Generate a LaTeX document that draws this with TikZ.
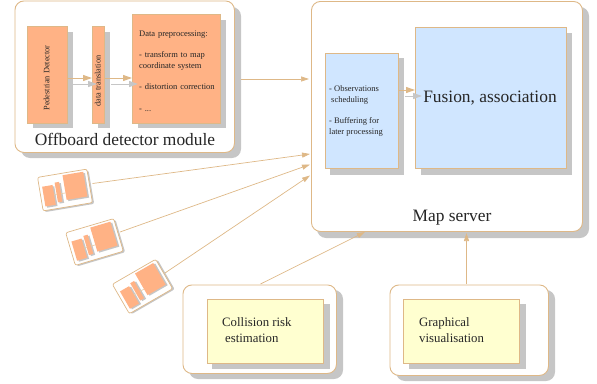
\documentclass[tikz,border=0pt]{standalone}
\usetikzlibrary{arrows.meta}
\definecolor{tan}{RGB}{222,184,135}
\definecolor{greyshade}{RGB}{198,198,198}
\definecolor{salmon}{RGB}{255,178,133}
\definecolor{skyb}{RGB}{208,230,255}
\definecolor{lemon}{RGB}{255,255,208}
\usepackage{fontspec}
\setmainfont{Liberation Serif}
\tikzset{
 x=1pt,y=-1pt,
 panel/.style={draw=tan,fill=white,line width=.9pt,rounded corners=9pt},
 panelshadow/.style={fill=greyshade,rounded corners=9pt},
 boxshadow/.style={fill=greyshade},
 orangebox/.style={draw=tan,fill=salmon,line width=.8pt},
 bluebox/.style={draw=tan,fill=skyb,line width=.9pt},
 yellowbox/.style={draw=tan,fill=lemon,line width=.8pt},
 link/.style={draw=tan,line width=.7pt,-{Triangle[length=8pt,width=5pt]}},
 thicklink/.style={draw=tan,line width=1pt,-{Triangle[length=9pt,width=6pt]}},
 shadelink/.style={draw=greyshade,line width=1pt,-{Triangle[length=9pt,width=6pt]}},
 mini/.style={draw=tan,fill=white,line width=.7pt,rounded corners=2pt},
 miniorange/.style={fill=salmon},
 minishade/.style={fill=greyshade},
 lab/.style={inner sep=0pt,align=left,text=black!85},
}
\newcommand{\pbox}[6]{% name, x1,y1,x2,y2, style
 \node[#6,minimum width=#4pt-#2pt,minimum height=#5pt-#3pt,inner sep=0pt,anchor=north west] (#1) at (#2,#3) {};}
\newcommand{\minimodule}[4]{% name, cx, cy, angle
 \begin{scope}[shift={(#2,#3)},rotate=#4,x=1pt,y=-1pt]
  \fill[greyshade,rounded corners=2pt] (-23.5,-15.5) rectangle (26.5,18.5);
  \draw[mini] (-25,-17) rectangle (25,17);
  \fill[minishade] (-20.5,-5.5) rectangle (-10,14.5);
  \fill[miniorange] (-22,-7) rectangle (-11.5,13);
  \fill[minishade] (-7.5,-7.5) rectangle (-3,12.5);
  \fill[miniorange] (-9,-9) rectangle (-4.5,11);
  \fill[minishade] (1.5,-13.5) rectangle (22.5,11.5);
  \fill[miniorange] (0,-15) rectangle (21,10);
  \draw[tan!70!white,line width=.7pt] (-11.5,3) -- (-9,3) (-4.5,3) -- (0,3);
 \end{scope}}
\begin{document}
\begin{tikzpicture}
\useasboundingbox (0,0) rectangle (597,383);
% detector panel
\fill[panelshadow] (21,7) rectangle (241,158);
\pbox{detector}{14.5}{0.5}{234}{152}{panel,rounded corners=9pt}
\fill[boxshadow] (33,32) rectangle (73,128);
\fill[boxshadow] (98,32) rectangle (110,128);
\fill[boxshadow] (138,20) rectangle (226,128);
\pbox{ped}{27}{26}{66.5}{122.5}{orangebox}
\pbox{trans}{92}{26}{103.5}{122.5}{orangebox}
\pbox{prep}{132}{14}{220}{122.5}{orangebox}
\node[lab,rotate=90,font=\fontsize{8.3}{9}\selectfont] at (46.5,78) {Pedestrian Detector};
\node[lab,rotate=90,font=\fontsize{8.3}{9}\selectfont] at (97.7,81) {data translation};
\node[lab,anchor=north west,font=\fontsize{8.5}{10.7}\selectfont,text width=80pt] at (139,30.5) {Data preprocessing:\\[10.7pt]- transform to map\\coordinate system\\[10.7pt]- distortion correction\\[10.7pt]- ...};
\coordinate (p1a) at (73,84); \coordinate (p1b) at (97,84);
\coordinate (p2a) at (111,84); \coordinate (p2b) at (138,84);
\draw[shadelink] (p1a) -- (p1b);
\draw[shadelink] (p2a) -- (p2b);
\draw[thicklink] (ped.east |- 0,78) -- (trans.west |- 0,78);
\draw[thicklink] (trans.east |- 0,78) -- (prep.west |- 0,78);
\node[lab,font=\fontsize{17.4}{19}\selectfont] at (125,139) {Offboard detector module};
% map server
\fill[panelshadow] (317,7) rectangle (589,238);
\pbox{server}{311}{1}{582}{231}{panel,rounded corners=9pt}
\fill[boxshadow] (330,58) rectangle (404,175);
\fill[boxshadow] (421,32.5) rectangle (572,175);
\pbox{sched}{324.5}{52.5}{398}{168}{bluebox}
\pbox{fusion}{415}{27}{565.5}{168}{bluebox}
\node[lab,anchor=north west,font=\fontsize{8.5}{10.7}\selectfont] at (329,85.2) {- Observations\\\hspace*{2pt}scheduling\\[10.7pt]- Buffering for\\later processing};
\node[lab,font=\fontsize{17.4}{19}\selectfont] at (490,98.5) {Fusion, association};
\node[lab,font=\fontsize{17.4}{19}\selectfont] at (452,218) {Map server};
\coordinate (s1a) at (405,96); \coordinate (s1b) at (422,96);
\draw[shadelink] (s1a) -- (s1b);
\draw[thicklink] (sched.east |- 0,90) -- (fusion.west |- 0,90);
% minis
\minimodule{m1}{65}{190}{9.5}
\minimodule{m2}{94.5}{242}{16.5}
\minimodule{m3}{142.5}{286.5}{30}
\coordinate (m1e) at (92.5,183.5);
\coordinate (m2e) at (120,232);
\coordinate (m3e) at (165,273);
% bottom
\fill[panelshadow] (189,290) rectangle (343,379);
\pbox{collout}{182.5}{284.5}{336}{373}{panel,rounded corners=9pt}
\fill[boxshadow] (212,304) rectangle (329.5,369);
\pbox{coll}{206.5}{298.5}{323}{363}{yellowbox}
\node[lab,anchor=north west,font=\fontsize{12.8}{16.3}\selectfont] at (222,317.5) {Collision risk\\\hspace*{3pt}estimation};
\fill[panelshadow] (396,290) rectangle (555,381);
\pbox{graphout}{389.5}{284.5}{548}{375}{panel,rounded corners=9pt}
\fill[boxshadow] (409,304) rectangle (526,369);
\pbox{graph}{403}{298.5}{519}{363}{yellowbox}
\node[lab,anchor=north west,font=\fontsize{12.8}{16.3}\selectfont] at (419,317.5) {Graphical\\visualisation};
% connectors
\coordinate (da) at (241,79);
\coordinate (sa) at (309,79);
\draw[link] (da) -- (sa);
\coordinate (s1) at (310,154); \coordinate (s2) at (310,164.5); \coordinate (s3) at (310,175.5);
\draw[link] (m1e) -- (s1);
\draw[link] (m2e) -- (s2);
\draw[link] (m3e) -- (s3);
\coordinate (ca) at (260.5,284); \coordinate (cb) at (365,232);
\draw[link] (ca) -- (cb);
\draw[link] (466.5,284) -- (466.5,233);
\end{tikzpicture}
\end{document}
